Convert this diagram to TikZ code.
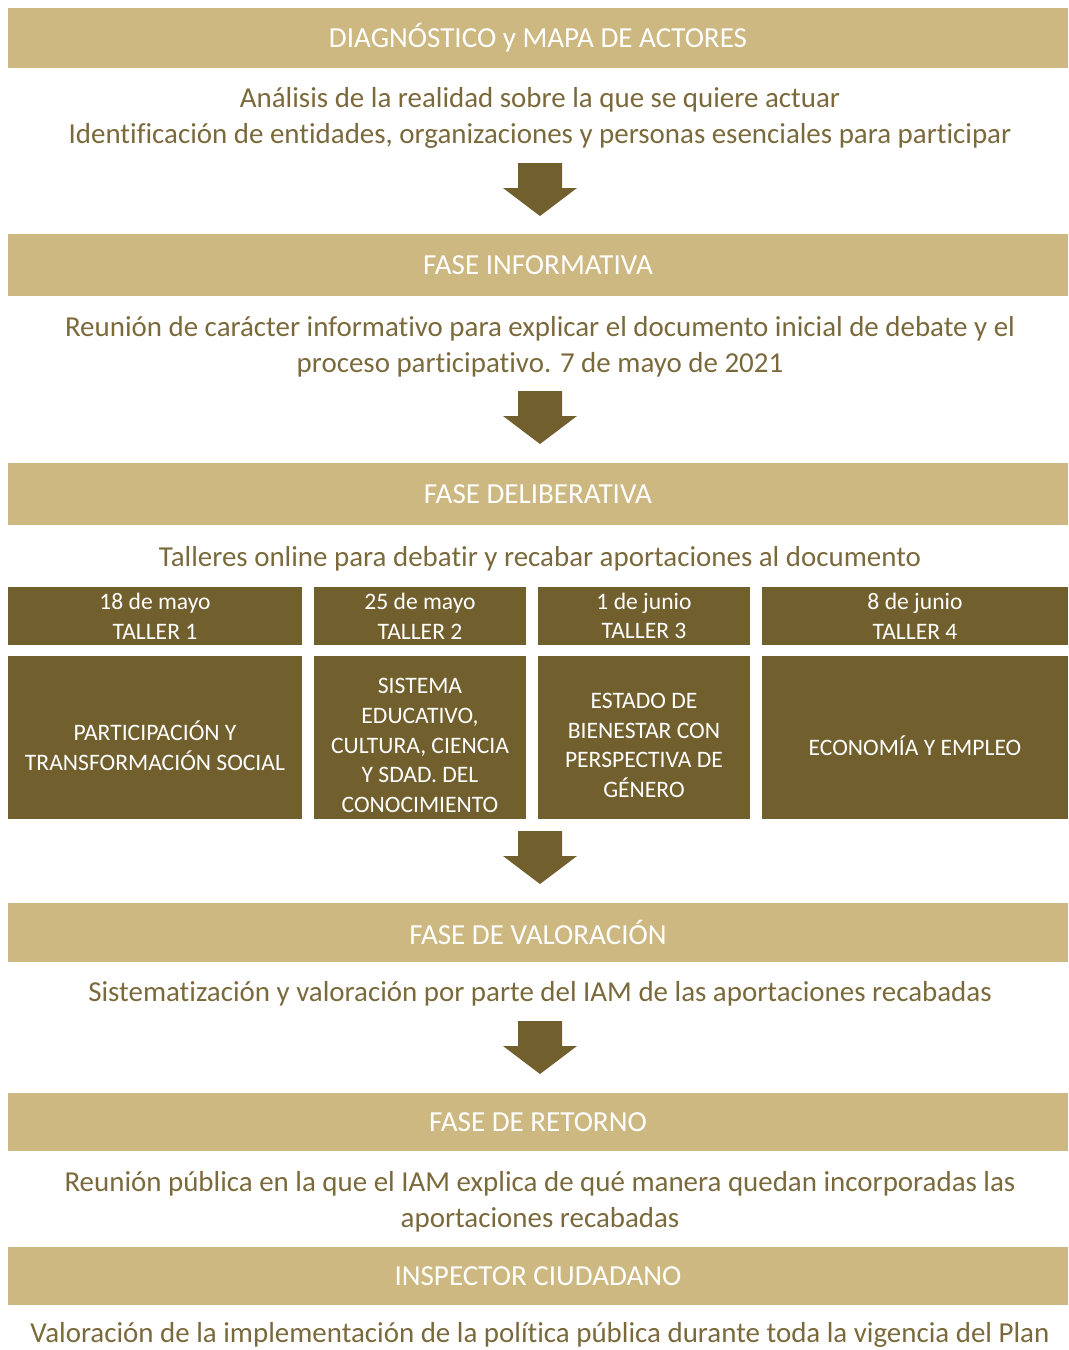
\documentclass[tikz,border=0pt]{standalone}
\usepackage{fontspec}
\setmainfont{Carlito}[Ligatures=NoCommon]
\definecolor{tanhdr}{HTML}{CDB882}
\definecolor{olivebox}{HTML}{725F2E}
\definecolor{bodytxt}{HTML}{7A693B}
\begin{document}
\begin{tikzpicture}[x=0.75pt,y=-0.75pt,
  hdr/.style={fill=tanhdr, text=white, inner sep=0pt, minimum width=795pt,
    font=\fontsize{21.8}{26}\selectfont},
  bodytext/.style={text=bodytxt, inner sep=0pt, align=center,
    font=\fontsize{21.7}{27}\selectfont},
  darkbox/.style={fill=olivebox, inner sep=0pt},
  boxtext/.style={text=white, inner sep=0pt, align=center,
    font=\fontsize{17.7}{22.2}\selectfont},
  blockarrow/.style={fill=olivebox, draw=none}]
\useasboundingbox (0,0) rectangle (1068,1350);

% headers
\node[hdr, minimum height=45pt] (h1) at (538,38) {DIAGNÓSTICO y MAPA DE ACTORES};
\node[hdr, minimum height=46.5pt] (h2) at (538,265) {FASE INFORMATIVA};
\node[hdr, minimum height=46.5pt] (h3) at (538,494) {FASE DELIBERATIVA};
\node[hdr, minimum height=44.25pt] (h4) at (538,932.5) {FASE DE VALORACIÓN};
\node[hdr, minimum height=43.5pt] (h5) at (538,1122) {FASE DE RETORNO};
\node[hdr, minimum height=43.5pt] (h6) at (538,1276) {INSPECTOR CIUDADANO};

% body texts
\node[bodytext] (t1) at (540,118) {Análisis de la realidad sobre la que se quiere actuar\\Identificación de entidades, organizaciones y personas esenciales para participar};
\node[bodytext] (t2) at (540,347) {Reunión de carácter informativo para explicar el documento inicial de debate y el\\proceso participativo. 7 de mayo de 2021};
\node[bodytext] (t3) at (540,559) {Talleres online para debatir y recabar aportaciones al documento};
\node[bodytext] (t4) at (540,994) {Sistematización y valoración por parte del IAM de las aportaciones recabadas};
\node[bodytext] (t5) at (540,1202) {Reunión pública en la que el IAM explica de qué manera quedan incorporadas las\\aportaciones recabadas};
\node[bodytext] (t6) at (540,1335) {Valoración de la implementación de la política pública durante toda la vigencia del Plan};

% date boxes
\node[darkbox, minimum width=220.5pt, minimum height=43.5pt] (d1) at (155,616) {};
\node[darkbox, minimum width=159pt, minimum height=43.5pt] (d2) at (420,616) {};
\node[darkbox, minimum width=159pt, minimum height=43.5pt] (d3) at (644,616) {};
\node[darkbox, minimum width=229.5pt, minimum height=43.5pt] (d4) at (915,616) {};
\node[boxtext] (d1t) at (d1.center) {18 de mayo\\TALLER 1};
\node[boxtext] (d2t) at (d2.center) {25 de mayo\\TALLER 2};
\node[boxtext] (d3t) at (d3.center) {1 de junio\\TALLER 3};
\node[boxtext] (d4t) at (d4.center) {8 de junio\\TALLER 4};

% topic boxes
\node[darkbox, minimum width=220.5pt, minimum height=122.25pt] (p1) at (155,737.5) {};
\node[darkbox, minimum width=159pt, minimum height=122.25pt] (p2) at (420,737.5) {};
\node[darkbox, minimum width=159pt, minimum height=122.25pt] (p3) at (644,737.5) {};
\node[darkbox, minimum width=229.5pt, minimum height=122.25pt] (p4) at (915,737.5) {};
\node[boxtext] (p1t) at ([yshift=-6pt]p1.center) {PARTICIPACIÓN Y\\TRANSFORMACIÓN SOCIAL};
\node[boxtext] (p2t) at ([yshift=-6pt]p2.center) {SISTEMA\\EDUCATIVO,\\CULTURA, CIENCIA\\Y SDAD. DEL\\CONOCIMIENTO};
\node[boxtext] (p3t) at ([yshift=-6pt]p3.center) {ESTADO DE\\BIENESTAR CON\\PERSPECTIVA DE\\GÉNERO};
\node[boxtext] (p4t) at ([yshift=-6pt]p4.center) {ECONOMÍA Y EMPLEO};

% block arrows
\foreach \top in {163,391,831,1021}{
  \fill[blockarrow] (518,\top) -- (562,\top) -- (562,\top+25) -- (577,\top+25)
    -- (540,\top+53) -- (503,\top+25) -- (518,\top+25) -- cycle;
}
\end{tikzpicture}
\end{document}
